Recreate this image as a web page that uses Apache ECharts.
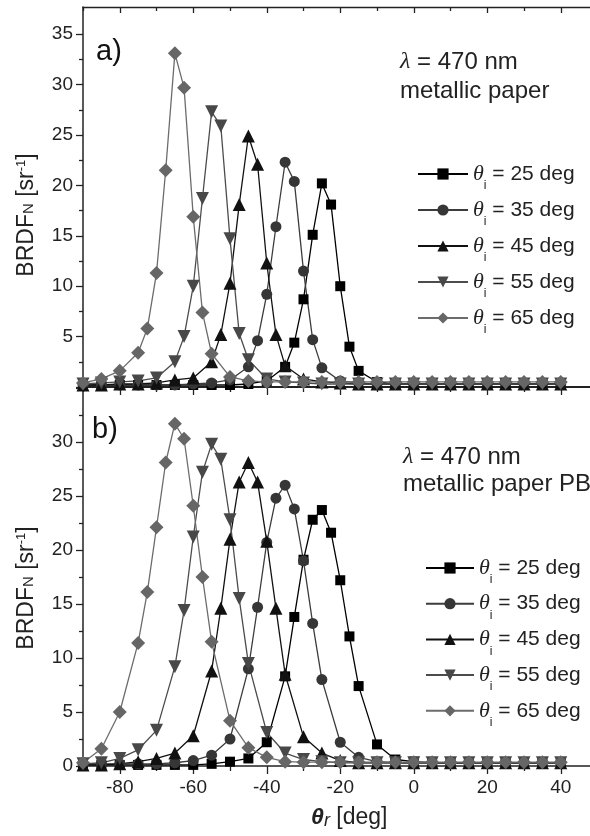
<!DOCTYPE html>
<html>
<head>
<meta charset="utf-8">
<script src="https://cdn.jsdelivr.net/npm/echarts@6/dist/echarts.min.js"></script>
<style>
  html, body { margin: 0; padding: 0; background: #fff; }
  #chart { width: 590px; height: 836px; }
</style>
</head>
<body>
<div id="chart"></div>
<script>
// reflection angles (deg), 2.5 deg steps near the specular peak
const angles25 = [-90, -85, -80, -75, -70, -65, -60, -55, -50, -45, -40, -35, -32.5, -30, -27.5, -25, -22.5, -20, -17.5, -15, -10, -5, 0, 5, 10, 15, 20, 25, 30, 35, 40];
const angles35 = [-90, -85, -80, -75, -70, -65, -60, -55, -50, -45, -42.5, -40, -37.5, -35, -32.5, -30, -27.5, -25, -20, -15, -10, -5, 0, 5, 10, 15, 20, 25, 30, 35, 40];
const angles45 = [-90, -85, -80, -75, -70, -65, -60, -55, -52.5, -50, -47.5, -45, -42.5, -40, -37.5, -35, -30, -25, -20, -15, -10, -5, 0, 5, 10, 15, 20, 25, 30, 35, 40];
const angles55 = [-90, -85, -80, -75, -70, -65, -62.5, -60, -57.5, -55, -52.5, -50, -47.5, -45, -40, -35, -30, -25, -20, -15, -10, -5, 0, 5, 10, 15, 20, 25, 30, 35, 40];
const angles65 = [-90, -85, -80, -75, -72.5, -70, -67.5, -65, -62.5, -60, -57.5, -55, -50, -45, -40, -35, -30, -25, -20, -15, -10, -5, 0, 5, 10, 15, 20, 25, 30, 35, 40];

// a) metallic paper
const paperA25 = [0.2, 0.2, 0.2, 0.2, 0.2, 0.2, 0.2, 0.2, 0.2, 0.3, 0.6, 2.0, 4.4, 8.7, 15.1, 20.2, 18.1, 10.0, 4.0, 1.6, 0.5, 0.3, 0.3, 0.3, 0.3, 0.3, 0.3, 0.3, 0.3, 0.3, 0.3];
const paperA35 = [0.2, 0.2, 0.2, 0.2, 0.2, 0.2, 0.3, 0.4, 0.7, 2.0, 4.6, 9.2, 15.9, 22.3, 20.4, 11.5, 4.7, 1.9, 0.6, 0.4, 0.3, 0.3, 0.3, 0.3, 0.3, 0.3, 0.3, 0.3, 0.3, 0.3, 0.3];
const paperA45 = [0.2, 0.2, 0.3, 0.3, 0.4, 0.7, 0.9, 2.5, 5.2, 10.3, 18.1, 24.9, 22.1, 12.3, 5.2, 2.1, 0.8, 0.5, 0.4, 0.3, 0.3, 0.3, 0.3, 0.3, 0.3, 0.3, 0.3, 0.3, 0.3, 0.3, 0.3];
const paperA55 = [0.3, 0.4, 0.5, 0.6, 0.9, 2.5, 5.0, 10.0, 18.7, 27.3, 25.9, 14.7, 5.3, 2.7, 0.8, 0.5, 0.4, 0.3, 0.3, 0.3, 0.3, 0.3, 0.3, 0.3, 0.3, 0.3, 0.3, 0.3, 0.3, 0.3, 0.3];
const paperA65 = [0.4, 0.8, 1.6, 3.4, 5.8, 11.3, 21.5, 33.1, 29.7, 16.9, 7.4, 3.3, 1.0, 0.6, 0.5, 0.5, 0.5, 0.5, 0.5, 0.5, 0.5, 0.5, 0.5, 0.5, 0.5, 0.5, 0.5, 0.5, 0.5, 0.5, 0.5];

// b) metallic paper PB
const paperB25 = [0.1, 0.1, 0.1, 0.1, 0.1, 0.1, 0.1, 0.2, 0.4, 0.7, 2.2, 8.3, 13.8, 19.1, 22.8, 23.7, 21.6, 17.2, 12.0, 7.4, 2.0, 0.6, 0.4, 0.3, 0.3, 0.3, 0.3, 0.3, 0.3, 0.3, 0.3];
const paperB35 = [0.2, 0.2, 0.2, 0.2, 0.2, 0.3, 0.5, 1.0, 2.5, 9.0, 14.7, 20.7, 24.8, 26.0, 23.8, 19.0, 13.2, 8.0, 2.2, 0.8, 0.4, 0.3, 0.3, 0.3, 0.3, 0.3, 0.3, 0.3, 0.3, 0.3, 0.3];
const paperB45 = [0.1, 0.1, 0.2, 0.4, 0.7, 1.2, 2.8, 8.8, 14.6, 21.0, 26.3, 28.1, 26.3, 20.8, 14.6, 8.5, 2.7, 1.2, 0.5, 0.3, 0.3, 0.3, 0.3, 0.3, 0.3, 0.3, 0.3, 0.3, 0.3, 0.3, 0.3];
const paperB55 = [0.2, 0.3, 0.7, 1.5, 3.3, 9.2, 14.4, 21.2, 27.2, 29.8, 28.4, 22.8, 15.5, 9.5, 3.1, 1.2, 0.6, 0.4, 0.3, 0.3, 0.3, 0.3, 0.3, 0.3, 0.3, 0.3, 0.3, 0.3, 0.3, 0.3, 0.3];
const paperB65 = [0.3, 1.6, 5.0, 11.4, 16.1, 22.1, 28.1, 31.7, 30.3, 24.1, 17.5, 11.5, 4.2, 1.7, 0.8, 0.4, 0.35, 0.35, 0.35, 0.35, 0.35, 0.35, 0.35, 0.35, 0.35, 0.35, 0.35, 0.35, 0.35, 0.35, 0.35];

const incidence = ['25', '35', '45', '55', '65'];
const xMajor = [-80, -60, -40, -20, 0, 20, 40];
const xMinor = [-90, -70, -50, -30, -10, 10, 30, 50];
const yMajor = [0, 5, 10, 15, 20, 25, 30, 35];
const yMinor = [2.5, 7.5, 12.5, 17.5, 22.5, 27.5, 32.5];
const yLabelsA = [5, 10, 15, 20, 25, 30, 35];
const yLabelsB = [0, 5, 10, 15, 20, 25, 30];

const FONT = 'Liberation Sans, Arial, sans-serif';
const SERIF = 'Liberation Serif, DejaVu Serif, serif';

const looks = [
  { symbol: 'rect', size: 10, fill: '#000', line: '#000' },
  { symbol: 'circle', size: 11, fill: '#363636', line: '#3c3c3c' },
  { symbol: 'triangle', size: 13, fill: '#111', line: '#111' },
  { symbol: 'path://M0,0L10,0L5,9Z', size: 13, fill: '#484848', line: '#4c4c4c' },
  { symbol: 'diamond', size: 14, fill: '#666', line: '#6c6c6c' }
];

function pairs(xs, ys) {
  return xs.map((x, i) => [x, ys[i]]);
}

const anglesAll = [angles25, angles35, angles45, angles55, angles65];
const panelA = [paperA25, paperA35, paperA45, paperA55, paperA65];
const panelB = [paperB25, paperB35, paperB45, paperB55, paperB65];

function makeSeries(values, xIdx, yIdx) {
  return values.map((ys, i) => ({
    name: incidence[i],
    type: 'line',
    xAxisIndex: xIdx,
    yAxisIndex: yIdx,
    data: pairs(anglesAll[i], ys),
    symbol: looks[i].symbol,
    symbolSize: looks[i].size,
    itemStyle: { color: looks[i].fill },
    lineStyle: { color: looks[i].line, width: 1.3 },
    animation: false
  }));
}

function xAxisBase(grid, pos) {
  return {
    type: 'value', gridIndex: grid, position: pos, min: -90, max: 50,
    splitLine: { show: false },
    axisLine: { show: false, onZero: false },
    axisLabel: { show: false },
    axisTick: { show: false }
  };
}

const axisColor = '#222';
const tickLabel = { color: '#222', fontSize: 19, fontFamily: FONT };

const xAxes = [
  // a) bottom line + major ticks
  Object.assign(xAxisBase(0, 'bottom'), {
    axisLine: { show: true, onZero: false, lineStyle: { color: axisColor, width: 2 } },
    axisTick: { show: true, customValues: xMajor, length: 8, lineStyle: { color: axisColor, width: 1.3 } }
  }),
  Object.assign(xAxisBase(0, 'bottom'), {
    axisTick: { show: true, customValues: xMinor, length: 5, lineStyle: { color: axisColor, width: 1.3 } }
  }),
  // a) top frame
  Object.assign(xAxisBase(0, 'top'), {
    axisLine: { show: true, onZero: false, lineStyle: { color: axisColor, width: 1.3 } },
    axisTick: { show: true, inside: true, customValues: xMajor, length: 6, lineStyle: { color: axisColor, width: 1.3 } }
  }),
  Object.assign(xAxisBase(0, 'top'), {
    axisTick: { show: true, inside: true, customValues: xMinor, length: 4, lineStyle: { color: axisColor, width: 1.3 } }
  }),
  // b) bottom axis with labels
  Object.assign(xAxisBase(1, 'bottom'), {
    axisLine: { show: true, onZero: false, lineStyle: { color: axisColor, width: 1.5 } },
    axisTick: { show: true, customValues: xMajor, length: 8, lineStyle: { color: axisColor, width: 1.3 } },
    axisLabel: Object.assign({ show: true, customValues: xMajor, margin: 12 }, tickLabel),
    name: '{th|θ}{r|r}{n| [deg]}',
    nameLocation: 'middle',
    nameGap: 40,
    nameTextStyle: {
      padding: [0, 0, 0, 18],
      rich: {
        th: { fontFamily: FONT, fontSize: 23, fontStyle: 'italic', fontWeight: 'bold', color: '#222' },
        r: { fontFamily: FONT, fontSize: 18, fontStyle: 'italic', color: '#222', padding: [6, 0, 0, 0] },
        n: { fontFamily: FONT, fontSize: 23, color: '#222' }
      }
    }
  }),
  Object.assign(xAxisBase(1, 'bottom'), {
    axisTick: { show: true, customValues: xMinor, length: 5, lineStyle: { color: axisColor, width: 1.3 } }
  })
];

const yName = {
  name: 'BRDF{sub|N} [sr{sup|-1}]',
  nameLocation: 'middle',
  nameRotate: 90,
  nameGap: 45,
  nameTextStyle: {
    fontFamily: FONT, fontSize: 23, color: '#222',
    rich: {
      sub: { fontFamily: FONT, fontSize: 15, color: '#222', padding: [4, 0, 0, 0] },
      sup: { fontFamily: FONT, fontSize: 13, color: '#222', padding: [0, 0, 10, 0] }
    }
  }
};

function yAxisPair(grid, max, labels, shift) {
  return [
    Object.assign({
      type: 'value', gridIndex: grid, position: 'left', min: 0, max: max,
      splitLine: { show: false },
      axisLine: { show: true, onZero: false, lineStyle: { color: axisColor, width: 1.5 } },
      axisTick: { show: true, customValues: yMajor, length: 7, lineStyle: { color: axisColor, width: 1.3 } },
      axisLabel: Object.assign({ show: true, customValues: labels, margin: 10 }, tickLabel)
    }, yName, { nameTextStyle: Object.assign({}, yName.nameTextStyle, { padding: [0, shift, 0, 0] }) }),
    {
      type: 'value', gridIndex: grid, position: 'left', min: 0, max: max,
      splitLine: { show: false },
      axisLine: { show: false, onZero: false },
      axisLabel: { show: false },
      axisTick: { show: true, customValues: yMinor, length: 4, lineStyle: { color: axisColor, width: 1.3 } }
    }
  ];
}

const yAxes = yAxisPair(0, 37.7, yLabelsA, 36).concat(yAxisPair(1, 35, yLabelsB, 22));

const legendRich = {
  th: { fontFamily: SERIF, fontStyle: 'italic', fontSize: 22, color: '#222', lineHeight: 24 },
  sub: { fontFamily: FONT, fontSize: 12, color: '#222', lineHeight: 24, verticalAlign: 'bottom', padding: [0, 0, -6, 0] },
  txt: { fontFamily: FONT, fontSize: 21, color: '#222', lineHeight: 24 }
};

function legendAt(left, top, width, gap) {
  return {
    orient: 'vertical', left: left, top: top,
    itemWidth: width, itemHeight: 14, itemGap: gap,
    data: incidence,
    formatter: name => '{th|θ}{sub|i}{txt| = ' + name + ' deg}',
    textStyle: { rich: legendRich },
    selectedMode: false
  };
}

const lambdaRich = { l: { fontFamily: SERIF, fontStyle: 'italic', fontSize: 24, fill: '#222' } };
const noteStyle = { font: '24px ' + FONT, fill: '#222' };

const option = {
  backgroundColor: '#fff',
  animation: false,
  grid: [
    { left: 83, top: 7, width: 514.5, height: 380, outerBoundsMode: 'none' },
    { left: 83, top: 388, width: 514.5, height: 378, outerBoundsMode: 'none' }
  ],
  xAxis: xAxes,
  yAxis: yAxes,
  legend: [legendAt(412, 158, 50, 7), legendAt(420, 552, 48, 6.7)],
  graphic: [
    { type: 'text', left: 96, top: 37, style: { text: 'a)', font: '29px ' + FONT, fill: '#111' } },
    { type: 'text', left: 92, top: 415, style: { text: 'b)', font: '29px ' + FONT, fill: '#111' } },
    { type: 'text', left: 400, top: 50, style: Object.assign({ text: '{l|λ} = 470 nm', rich: lambdaRich }, noteStyle) },
    { type: 'text', left: 400, top: 79, style: Object.assign({ text: 'metallic paper' }, noteStyle) },
    { type: 'text', left: 403, top: 445, style: Object.assign({ text: '{l|λ} = 470 nm', rich: lambdaRich }, noteStyle) },
    { type: 'text', left: 403, top: 472, style: Object.assign({ text: 'metallic paper PB' }, noteStyle) }
  ],
  series: makeSeries(panelA, 0, 0).concat(makeSeries(panelB, 4, 2))
};

const chart = echarts.init(document.getElementById('chart'));
chart.setOption(option);
</script>
</body>
</html>
